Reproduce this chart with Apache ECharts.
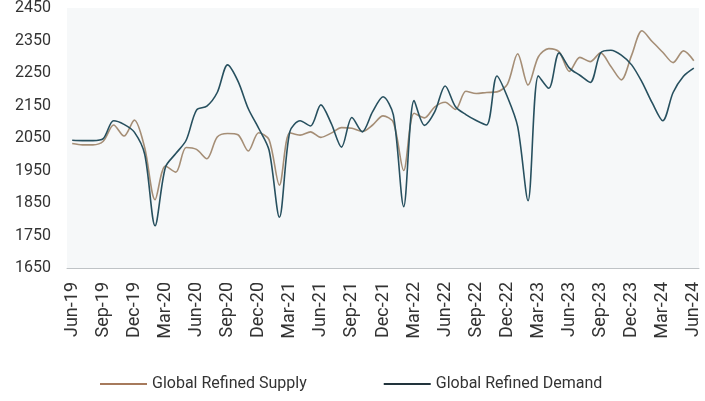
<!DOCTYPE html>
<html>
<head>
<meta charset="utf-8">
<script src="https://cdn.jsdelivr.net/npm/echarts@6/dist/echarts.min.js"></script>
<style>
  html, body { margin: 0; padding: 0; background: #fff; }
  #chart { width: 705px; height: 401px; }
</style>
</head>
<body>
<div id="chart"></div>
<script>
// months Jun-19 .. Jun-24
var months = [
    'Jun-19','Jul-19','Aug-19','Sep-19','Oct-19','Nov-19','Dec-19',
    'Jan-20','Feb-20','Mar-20','Apr-20','May-20','Jun-20','Jul-20','Aug-20','Sep-20','Oct-20','Nov-20','Dec-20',
    'Jan-21','Feb-21','Mar-21','Apr-21','May-21','Jun-21','Jul-21','Aug-21','Sep-21','Oct-21','Nov-21','Dec-21',
    'Jan-22','Feb-22','Mar-22','Apr-22','May-22','Jun-22','Jul-22','Aug-22','Sep-22','Oct-22','Nov-22','Dec-22',
    'Jan-23','Feb-23','Mar-23','Apr-23','May-23','Jun-23','Jul-23','Aug-23','Sep-23','Oct-23','Nov-23','Dec-23',
    'Jan-24','Feb-24','Mar-24','Apr-24','May-24','Jun-24'
];

var supply = [
    2033, 2029, 2029, 2040, 2090, 2056, 2105,
    2020, 1860, 1964, 1945, 2021, 2015, 1986, 2053, 2064, 2060, 2010, 2066,
    2045, 1905, 2066, 2059, 2069, 2052, 2065, 2082, 2080, 2070, 2090, 2118,
    2098, 1950, 2126, 2112, 2146, 2160, 2138, 2194, 2187, 2190, 2192, 2215,
    2309, 2213, 2300, 2325, 2315, 2255, 2298, 2285, 2312, 2270, 2229, 2305,
    2380, 2346, 2314, 2282, 2318, 2288
];

var demand = [
    2043, 2042, 2042, 2048, 2103, 2092, 2068,
    2000, 1780, 1960, 2002, 2043, 2136, 2148, 2190, 2275, 2225, 2140, 2080,
    2013, 1806, 2069, 2103, 2087, 2152, 2095, 2022, 2113, 2069, 2131, 2177,
    2121, 1839, 2165, 2089, 2131, 2210, 2146, 2122, 2104, 2090, 2241, 2177,
    2085, 1857, 2241, 2203, 2312, 2265, 2243, 2221, 2312, 2320, 2305, 2275,
    2222, 2157, 2103, 2190, 2240, 2265
];

var chart = echarts.init(document.getElementById('chart'));
var font = 'Roboto, "Noto Sans", sans-serif';

var option = {
    animation: false,
    grid: {
        left: 67,
        right: 6,
        top: 6,
        bottom: 133,
        show: true,
        backgroundColor: '#f6f8f9',
        borderWidth: 0
    },
    legend: {
        bottom: 4,
        left: 95,
        itemWidth: 47,
        itemHeight: 2,
        itemGap: 77,
        icon: 'rect',
        textStyle: { color: '#333', fontSize: 16, fontFamily: font },
        data: ['Global Refined Supply', 'Global Refined Demand']
    },
    xAxis: {
        type: 'category',
        data: months,
        boundaryGap: true,
        axisLine: { lineStyle: { color: '#bfc3c6' } },
        axisTick: { interval: 2, length: 7, lineStyle: { color: '#bfc3c6' } },
        axisLabel: {
            interval: 2,
            rotate: 90,
            margin: 14,
            padding: [0, 0, 12, 0],
            color: '#333',
            fontSize: 18,
            fontFamily: font
        },
        splitLine: { show: false }
    },
    yAxis: {
        type: 'value',
        min: 1650,
        max: 2450,
        interval: 100,
        axisLine: { show: false },
        axisTick: { show: false },
        splitLine: { show: false },
        axisLabel: {
            color: '#333',
            fontSize: 16,
            margin: 16,
            fontFamily: font,
            formatter: function (v) { return String(v); }
        }
    },
    series: [
        {
            name: 'Global Refined Supply',
            type: 'line',
            data: supply,
            symbol: 'none',
            smooth: 0.3,
            lineStyle: { width: 1.6, color: '#a58e76' },
            itemStyle: { color: '#a67a5c' }
        },
        {
            name: 'Global Refined Demand',
            type: 'line',
            data: demand,
            symbol: 'none',
            smooth: 0.3,
            lineStyle: { width: 1.6, color: '#27505f' },
            itemStyle: { color: '#22343c' }
        }
    ]
};
chart.setOption(option);
</script>
</body>
</html>
